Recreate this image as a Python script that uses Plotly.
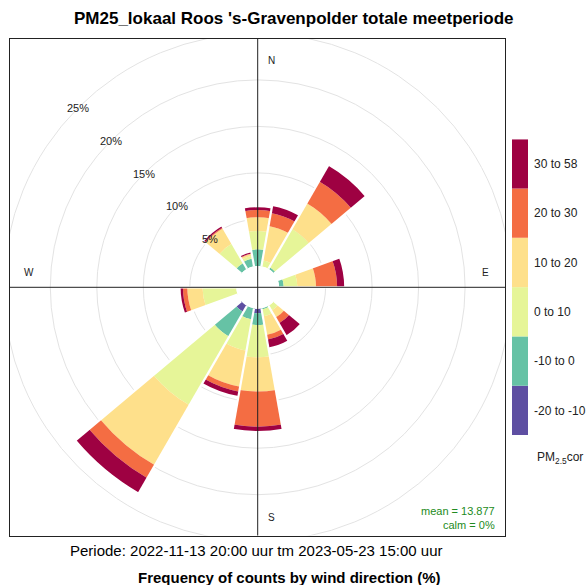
import plotly.graph_objects as go

# ---------------- data ----------------
directions = [0, 20, 40, 60, 80, 100, 120, 140, 160, 180, 200, 220, 240, 260, 280, 300, 320, 340]
bin_labels = ["-20 to -10", "-10 to 0", "0 to 10", "10 to 20", "20 to 30", "30 to 58"]
bin_colors = ["#5E4FA2", "#66C2A5", "#E6F598", "#FEE08B", "#F46D43", "#9E0142"]

freq_m20_m10 = [0, 0, 0, 0, 0, 0, 0, 0, 0, 0.49, 0, 0.78, 0, 0, 0, 0, 0, 0]
freq_m10_0 = [1.78, 0, 0.22, 0, 0.50, 0, 0, 0, 0.12, 1.26, 1.22, 3.05, 0, 0, 0, 0, 0.74, 0.85]
freq_0_10 = [1.97, 0.65, 4.75, 0, 1.47, 0, 0, 0.60, 0.78, 3.48, 3.41, 8.52, 0, 3.63, 0, 0, 2.42, 0.30]
freq_10_20 = [1.48, 3.75, 3.20, 0, 2.00, 0, 0, 0.88, 2.00, 3.68, 3.93, 7.45, 0, 1.64, 0, 0, 1.90, 0.20]
freq_20_30 = [0.78, 1.42, 2.70, 0, 2.27, 0, 0, 0.72, 0.52, 3.77, 0.54, 1.60, 0, 0.47, 0, 0, 0.10, 0.05]
freq_30_58 = [0.29, 0.76, 1.95, 0, 0.76, 0, 0, 1.52, 0.85, 0.47, 0.48, 1.80, 0, 0.25, 0, 0, 0.15, 0.12]

ring_values = [5, 10, 15, 20, 25]
title_text = "PM25_lokaal Roos 's-Gravenpolder totale meetperiode"
period_text = "Periode: 2022-11-13 20:00 uur tm 2023-05-23 15:00 uur"
xlab_text = "Frequency of counts by wind direction (%)"
mean_text = "mean = 13.877"
calm_text = "calm = 0%"

series = [freq_m20_m10, freq_m10_0, freq_0_10, freq_10_20, freq_20_30, freq_30_58]

# ---------------- geometry (pixels) ----------------
W, H = 587, 585
FONT = "Liberation Sans, Arial, Helvetica, sans-serif"
cx, cy = 257.7, 287.3          # centre of rose
px_per_pct = 9.3
hole_px = 21.4
R = 248.0                      # polar radius in px
offset = hole_px / px_per_pct  # radial offset in % units
panel = dict(x0=9.5, x1=505.0, y0=38.5, y1=535.5)

fig = go.Figure()

# stacked rose bars
for vals, lab, col in zip(series, bin_labels, bin_colors):
    fig.add_trace(go.Barpolar(
        r=vals, theta=directions, width=[20] * len(directions),
        marker=dict(color=col, line=dict(width=0)),
        name=lab, showlegend=False, subplot="polar"))

# white separators between sectors (constant-width gaps)
totals = [sum(s[i] for s in series) for i in range(len(directions))]
sep_r, sep_t = [], []
n = len(directions)
for i in range(n):
    m = max(totals[i], totals[(i + 1) % n])
    if m > 0:
        b = directions[i] + 10
        sep_r += [0, m + 0.3, None]
        sep_t += [b, b, None]
fig.add_trace(go.Scatterpolar(r=sep_r, theta=sep_t, mode="lines",
                              line=dict(color="white", width=2.2),
                              showlegend=False, hoverinfo="skip", subplot="polar"))

# legend key as stacked bar
fig.add_trace(go.Bar(x=[0] * len(bin_labels), y=[1] * len(bin_labels),
                     base=list(range(len(bin_labels))), width=1,
                     marker=dict(color=bin_colors, line=dict(width=0)),
                     xaxis="x2", yaxis="y2", showlegend=False, hoverinfo="skip"))

# invisible trace to create the cartesian frame axes
fig.add_trace(go.Scatter(x=[0], y=[0], mode="markers", marker=dict(opacity=0),
                         showlegend=False, hoverinfo="skip", xaxis="x", yaxis="y"))

xr = [-(cx - panel["x0"]) / px_per_pct, (panel["x1"] - cx) / px_per_pct]
yr = [-(panel["y1"] - cy) / px_per_pct, (cy - panel["y0"]) / px_per_pct]

shapes = []
# outer 25% ring (clipped to panel)
r25 = ring_values[-1] + offset
shapes.append(dict(type="circle", xref="x", yref="y", x0=-r25, x1=r25, y0=-r25, y1=r25,
                   line=dict(color="#e3e3e3", width=1), layer="below"))
# cross hairs
shapes.append(dict(type="line", xref="x", yref="y domain", x0=0, x1=0, y0=0, y1=1,
                   line=dict(color="#222222", width=1), layer="above"))
shapes.append(dict(type="line", xref="x domain", yref="y", x0=0, x1=1, y0=0, y1=0,
                   line=dict(color="#222222", width=1), layer="above"))

annotations = []
for p in ring_values:
    rr = (p + offset) * 0.7071
    annotations.append(dict(x=-rr, y=rr, xref="x", yref="y", text=f"{p}%", showarrow=False,
                            xanchor="center", yanchor="middle",
                            font=dict(size=11, color="#222222", family=FONT)))
for txt, ax, ay in [("N", 1.5, 24.4), ("E", 24.45, 1.6), ("S", 1.5, -24.7), ("W", -24.6, 1.6)]:
    annotations.append(dict(x=ax, y=ay, xref="x", yref="y", text=txt, showarrow=False,
                            xanchor="center", yanchor="middle",
                            font=dict(size=10, color="#222222", family=FONT)))
annotations.append(dict(x=(497 - cx) / px_per_pct, y=(cy - 511) / px_per_pct, xref="x", yref="y",
                        text=mean_text, showarrow=False, xanchor="right", yanchor="middle",
                        font=dict(size=11, color="forestgreen", family=FONT)))
annotations.append(dict(x=(497 - cx) / px_per_pct, y=(cy - 525) / px_per_pct, xref="x", yref="y",
                        text=calm_text, showarrow=False, xanchor="right", yanchor="middle",
                        font=dict(size=11, color="forestgreen", family=FONT)))
# titles
annotations.append(dict(x=293.5 / W, y=1 - 19 / H, xref="paper", yref="paper", text=f"<b>{title_text}</b>",
                        showarrow=False, xanchor="center", yanchor="middle",
                        font=dict(size=17, color="black", family=FONT)))
annotations.append(dict(x=256 / W, y=1 - 550 / H, xref="paper", yref="paper", text=period_text,
                        showarrow=False, xanchor="center", yanchor="middle",
                        font=dict(size=15, color="black", family=FONT)))
annotations.append(dict(x=289 / W, y=1 - 577 / H, xref="paper", yref="paper", text=f"<b>{xlab_text}</b>",
                        showarrow=False, xanchor="center", yanchor="middle",
                        font=dict(size=15, color="black", family=FONT)))
annotations.append(dict(x=535 / W, y=1 - 458 / H, xref="paper", yref="paper",
                        text="PM<sub>2.5</sub>cor", xanchor="left", yanchor="middle",
                        showarrow=False, font=dict(size=12, color="#222222", family=FONT)))

fig.update_layout(
    width=W, height=H, margin=dict(l=0, r=0, t=0, b=0),
    paper_bgcolor="white", plot_bgcolor="rgba(0,0,0,0)",
    font=dict(family=FONT),
    barmode="overlay",
    polar=dict(
        domain=dict(x=[(cx - R) / W, (cx + R) / W], y=[1 - (cy + R) / H, 1 - (cy - R) / H]),
        hole=hole_px / R,
        bgcolor="rgba(0,0,0,0)",
        barmode="stack",
        radialaxis=dict(range=[0, (R - hole_px) / px_per_pct], tickvals=[0] + ring_values[:-1],
                        showticklabels=False, ticks="", showline=False,
                        gridcolor="#e3e3e3", gridwidth=1),
        angularaxis=dict(rotation=90, direction="clockwise", showgrid=False,
                         showticklabels=False, ticks="", showline=False),
    ),
    xaxis=dict(domain=[panel["x0"] / W, panel["x1"] / W], range=xr, showgrid=False, zeroline=False,
               showticklabels=False, ticks="", showline=True, mirror=True, linecolor="#222222",
               linewidth=1, fixedrange=True),
    yaxis=dict(domain=[1 - panel["y1"] / H, 1 - panel["y0"] / H], range=yr, showgrid=False,
               zeroline=False, showticklabels=False, ticks="", showline=True, mirror=True,
               linecolor="#222222", linewidth=1, fixedrange=True),
    xaxis2=dict(domain=[512 / W, 528 / W], range=[-0.5, 0.5], visible=False, anchor="y2"),
    yaxis2=dict(domain=[1 - 435 / H, 1 - 139.3 / H], range=[0, len(bin_labels)], anchor="x2",
                side="right", tickvals=[i + 0.5 for i in range(len(bin_labels))], ticktext=bin_labels,
                showgrid=False, zeroline=False, showline=False, ticks="", ticklabelstandoff=5,
                tickfont=dict(size=12, color="#222222", family=FONT)),
    shapes=shapes, annotations=annotations,
)

fig.write_html("out.html", config={"displayModeBar": False},
               post_script="document.body.style.margin='0px';document.body.style.padding='0px';")
